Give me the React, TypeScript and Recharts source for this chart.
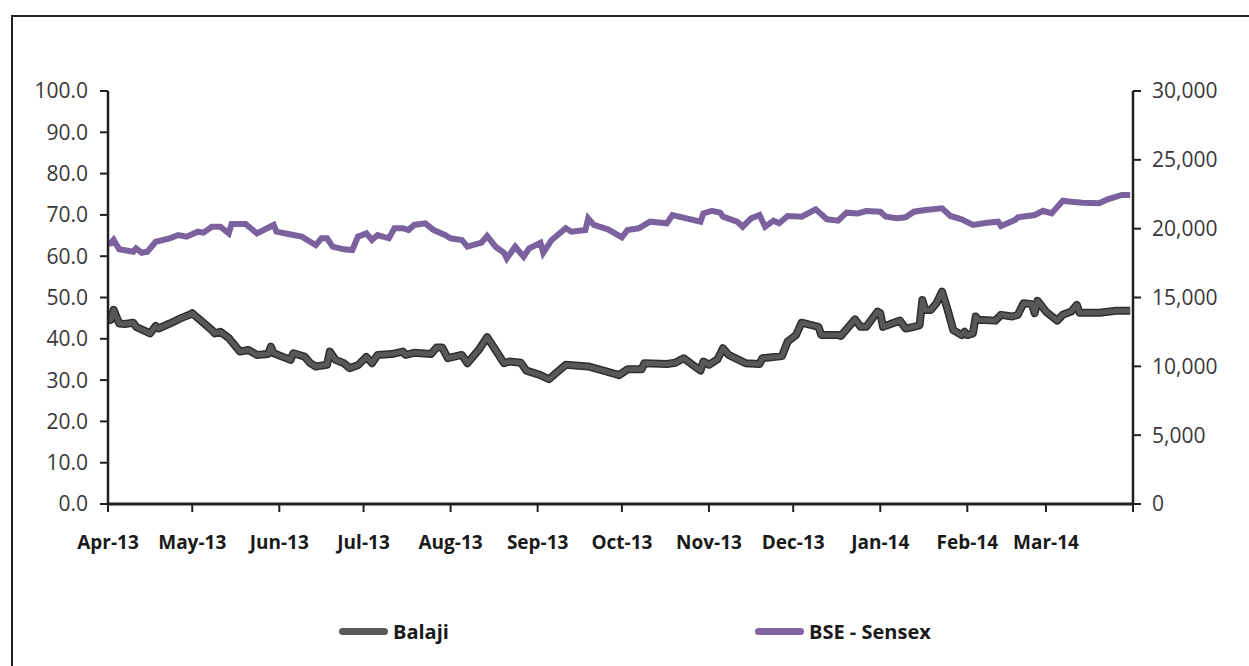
import { LineChart, Line, XAxis, YAxis } from 'recharts';

// trading days counted from 1 Apr 2013
const balajiDays = [
  0, 1, 2, 4, 6, 9, 10, 15, 17, 18, 22, 26, 29, 30, 37, 38, 40, 43, 47, 50,
  53, 57, 58, 59, 65, 66, 70, 72, 74, 78, 79, 81, 84, 86, 89, 92, 94, 96, 101, 103,
  105, 106, 109, 115, 117, 119, 121, 126, 128, 132, 135, 138, 141, 143, 147, 149, 154, 157, 163, 171,
  178, 182, 185, 190, 191, 199, 202, 205, 211, 212, 214, 217, 219, 221, 227, 232, 233, 240, 242, 245,
  247, 253, 254, 260, 261, 266, 268, 270, 274, 275, 276, 282, 284, 287, 289, 290, 291, 293, 295, 297,
  299, 301, 304, 305, 306, 308, 309, 310, 316, 318, 322, 324, 326, 329, 330, 331, 334, 338, 340, 343,
  345, 346, 353, 359, 364,
];
const balajiPrice = [
  44.5, 44.6, 47.0, 43.7, 43.6, 43.9, 42.9, 41.3, 43.1, 42.5, 43.7, 45.0, 45.8, 46.2, 42.1, 41.3, 41.7, 40.2, 36.9, 37.3,
  36.1, 36.3, 38.1, 36.5, 34.9, 36.5, 35.7, 34.1, 33.3, 33.7, 36.9, 34.9, 34.1, 32.9, 33.6, 35.6, 34.1, 36.1, 36.3, 36.6,
  36.9, 36.1, 36.6, 36.3, 37.9, 37.9, 35.3, 36.1, 34.1, 37.3, 40.4, 37.3, 34.1, 34.5, 34.2, 32.3, 31.2, 30.2, 33.7, 33.3,
  32.0, 31.2, 32.6, 32.6, 34.1, 33.9, 34.2, 35.3, 32.3, 34.5, 33.7, 35.0, 37.7, 36.1, 34.1, 33.9, 35.3, 35.8, 39.3, 40.9,
  43.9, 42.9, 40.9, 40.9, 40.7, 44.7, 42.9, 42.9, 46.6, 46.2, 42.9, 44.4, 42.5, 42.9, 43.3, 49.4, 47.0, 47.0, 48.6, 51.4,
  47.0, 42.1, 40.9, 41.7, 40.9, 41.3, 45.4, 44.6, 44.4, 45.8, 45.4, 45.8, 48.6, 48.4, 46.2, 49.2, 46.6, 44.4, 45.8, 46.6,
  48.2, 46.3, 46.3, 46.8, 46.8,
];

const sensexDays = [
  0, 1, 2, 4, 9, 10, 12, 14, 17, 22, 25, 28, 32, 34, 37, 40, 43, 44, 49, 53,
  59, 60, 66, 69, 72, 74, 76, 78, 80, 84, 87, 89, 92, 94, 96, 100, 102, 105, 107, 109,
  113, 116, 120, 122, 126, 128, 133, 135, 138, 141, 142, 145, 148, 150, 154, 155, 158, 163, 165, 170,
  171, 173, 178, 183, 185, 189, 193, 199, 201, 211, 212, 215, 218, 219, 224, 226, 229, 232, 234, 237,
  239, 242, 247, 252, 256, 260, 263, 267, 270, 275, 277, 281, 284, 287, 291, 297, 300, 304, 308, 313,
  317, 318, 323, 324, 330, 333, 336, 340, 343, 347, 353, 356, 361, 364,
];
const sensexClose = [
  18900, 18940, 19180, 18500, 18330, 18570, 18250, 18330, 19050, 19300, 19540, 19420, 19780, 19710, 20140, 20140, 19660, 20340, 20340, 19660,
  20270, 19780, 19540, 19420, 19050, 18810, 19300, 19300, 18690, 18500, 18450, 19420, 19660, 19180, 19540, 19300, 20030, 20030, 19900, 20270,
  20390, 19900, 19540, 19300, 19180, 18690, 18980, 19470, 18690, 18250, 17840, 18690, 17960, 18570, 18980, 18250, 19180, 20030, 19780, 19900,
  20750, 20270, 19950, 19370, 19900, 20030, 20510, 20390, 20990, 20510, 21110, 21300, 21160, 20870, 20510, 20140, 20750, 20990, 20140, 20580,
  20390, 20920, 20870, 21410, 20680, 20580, 21160, 21110, 21280, 21230, 20870, 20750, 20830, 21230, 21360, 21480, 20920, 20680, 20270, 20430,
  20510, 20190, 20630, 20830, 20990, 21300, 21110, 22030, 21960, 21890, 21840, 22130, 22450, 22450,
];

const monthTicks = [0, 30, 61, 91, 122, 153, 183, 214, 244, 275, 306, 334, 365];
const monthLabels = ['Apr-13', 'May-13', 'Jun-13', 'Jul-13', 'Aug-13', 'Sep-13', 'Oct-13', 'Nov-13', 'Dec-13', 'Jan-14', 'Feb-14', 'Mar-14', ''];
const leftTicks = [0, 10, 20, 30, 40, 50, 60, 70, 80, 90, 100];
const rightTicks = [0, 5000, 10000, 15000, 20000, 25000, 30000];

type Row = { day: number; balaji?: number; sensex?: number };

const rows: Record<number, Row> = {};
balajiDays.forEach((d, i) => {
  rows[d] = { ...(rows[d] || { day: d }), balaji: balajiPrice[i] };
});
sensexDays.forEach((d, i) => {
  rows[d] = { ...(rows[d] || { day: d }), sensex: sensexClose[i] };
});
const data = Object.values(rows).sort((a, b) => a.day - b.day);

const FONT = '"Open Sans", "DejaVu Sans", sans-serif';
const axisColor = '#231f20';

export default function App() {
  return (
    <div style={{ position: 'fixed', left: 0, top: 0, width: 1249, height: 666, overflow: 'hidden', background: '#fff' }}>
      <div
        style={{
          position: 'absolute',
          left: 11,
          top: 15,
          width: 1260,
          height: 680,
          border: `2.5px solid ${axisColor}`,
        }}
      />
      <div style={{ position: 'absolute', left: 0, top: 0 }}>
        <LineChart width={1249} height={666} data={data} margin={{ top: 91, right: 0, bottom: 0, left: 0 }}>
          <XAxis
            dataKey="day"
            type="number"
            domain={[0, 365]}
            ticks={monthTicks}
            interval={0}
            tickFormatter={(v: number) => monthLabels[monthTicks.indexOf(v)] ?? ''}
            height={162}
            axisLine={{ stroke: axisColor, strokeWidth: 3 }}
            tickLine={{ stroke: axisColor, strokeWidth: 2 }}
            tickSize={8}
            tickMargin={24}
            tick={{ fill: '#1a1a1a', fontSize: 19, fontWeight: 700, fontFamily: FONT }}
          />
          <YAxis
            yAxisId="left"
            domain={[0, 100]}
            ticks={leftTicks}
            interval={0}
            tickFormatter={(v: number) => v.toFixed(1)}
            width={108}
            axisLine={{ stroke: axisColor, strokeWidth: 2.5 }}
            tickLine={{ stroke: axisColor, strokeWidth: 2 }}
            tickSize={8}
            tickMargin={12}
            tick={{ fill: '#383838', fontSize: 21, fontFamily: FONT }}
          />
          <YAxis
            yAxisId="right"
            orientation="right"
            domain={[0, 30000]}
            ticks={rightTicks}
            interval={0}
            tickFormatter={(v: number) => v.toLocaleString('en-US')}
            width={116}
            axisLine={{ stroke: axisColor, strokeWidth: 2.5 }}
            tickLine={{ stroke: axisColor, strokeWidth: 2 }}
            tickSize={8}
            tickMargin={11}
            tick={{ fill: '#383838', fontSize: 21, fontFamily: FONT }}
          />
          <Line
            yAxisId="right"
            dataKey="sensex"
            type="linear"
            stroke="#7b619e"
            strokeWidth={6}
            dot={false}
            connectNulls
            isAnimationActive={false}
          />
          <Line
            yAxisId="left"
            dataKey="balaji"
            type="linear"
            stroke="#2e2e2e"
            strokeWidth={8}
            strokeLinejoin="round"
            dot={false}
            connectNulls
            legendType="none"
            isAnimationActive={false}
          />
          <Line
            yAxisId="left"
            dataKey="balaji"
            type="linear"
            stroke="#575859"
            strokeWidth={5}
            strokeLinejoin="round"
            dot={false}
            connectNulls
            name="Balaji"
            isAnimationActive={false}
          />
        </LineChart>
      </div>
      <div style={{ position: 'absolute', left: 339, top: 617, height: 28, display: 'flex', alignItems: 'center', fontFamily: FONT, fontWeight: 700, fontSize: 20, color: '#1a1a1a' }}>
        <span style={{ display: 'inline-block', width: 49, height: 7, borderRadius: 4, background: '#5a5a5a', marginRight: 5 }} />
        <span>Balaji</span>
      </div>
      <div style={{ position: 'absolute', left: 755, top: 617, height: 28, display: 'flex', alignItems: 'center', fontFamily: FONT, fontWeight: 700, fontSize: 20, color: '#1a1a1a' }}>
        <span style={{ display: 'inline-block', width: 49, height: 7, borderRadius: 4, background: '#8064a2', marginRight: 5 }} />
        <span>BSE - Sensex</span>
      </div>
    </div>
  );
}
